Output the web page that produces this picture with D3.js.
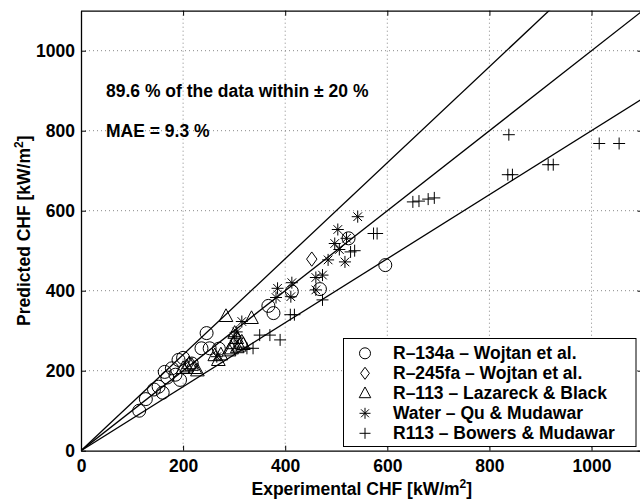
<!DOCTYPE html>
<html>
<head>
<meta charset="utf-8">
<script src="https://cdn.jsdelivr.net/npm/d3@7"></script>
<style>
  body { margin: 0; background: #fff; }
  text { font-family: "Liberation Sans", Arial, Helvetica, sans-serif; font-weight: bold; }
</style>
</head>
<body>
<script>

// data: [experimental, predicted] in kW/m2
var r134a = [[114,100],[127,129],[143,153],[160,145],[152,160],[169,183],[164,197],[178,206],
             [191,227],[194,177],[185,190],[200,232],[217,218],[236,256],[246,294],[252,256],
             [270,255],[377,344],[367,362],[413,398],[468,404],[524,531],[596,464]];
var r245fa = [[452,479]];
var r113_lazareck = [[284,336],[334,331],[301,294],[305,281],[298,268],[315,272],[318,266],
                     [295,255],[306,258],[290,250],[269,226],[262,238],[274,240],[217,214],
                     [223,206],[207,210],[212,218],[228,200],[200,206],[310,262]];
var water = [[542,585],[503,553],[520,531],[497,518],[506,503],[484,477],[517,472],[473,439],
             [460,433],[460,402],[413,420],[411,385],[385,406],[382,383],[315,323],[266,235],
             [305,297],[300,285]];
var r113_bowers = [[838,790],[836,690],[845,690],[915,715],[925,715],[1015,768],[1054,768],
                   [650,622],[662,624],[680,629],[692,632],[573,543],[580,543],[528,497],
                   [536,500],[473,377],[410,340],[418,340],[350,289],[370,289],[390,277],
                   [325,256],[337,256]];

var xTicks = [0, 200, 400, 600, 800, 1000];
var yTicks = [0, 200, 400, 600, 800, 1000];
var ratios = [1.2, 1.0, 0.8];

var legendLabels = ["R\u2013134a \u2013 Wojtan et al.",
                    "R\u2013245fa \u2013 Wojtan et al.",
                    "R\u2013113 \u2013 Lazareck & Black",
                    "Water \u2013 Qu & Mudawar",
                    "R113 \u2013 Bowers & Mudawar"];

// set the dimensions and margins of the graph
var margin = {top: 10.7, left: 81},
    width = 561.6,
    height = 440;

var x = d3.scaleLinear().domain([0, 1100]).range([0, width]);
var y = d3.scaleLinear().domain([0, 1100]).range([height, 0]);

var svg = d3.select("body").append("svg")
    .attr("width", 640)
    .attr("height", 502);

svg.append("rect").attr("width", 640).attr("height", 502).attr("fill", "#fff");

var g = svg.append("g")
    .attr("transform", "translate(" + margin.left + "," + margin.top + ")");

g.append("clipPath").attr("id", "clip")
  .append("rect").attr("width", width).attr("height", height);

// dotted grid
g.selectAll(".gx").data(xTicks.slice(1)).enter().append("line")
    .attr("x1", d => x(d)).attr("x2", d => x(d))
    .attr("y1", 0).attr("y2", height)
    .attr("stroke", "#888").attr("stroke-dasharray", "1,3");
g.selectAll(".gy").data(yTicks.slice(1)).enter().append("line")
    .attr("y1", d => y(d)).attr("y2", d => y(d))
    .attr("x1", 0).attr("x2", width)
    .attr("stroke", "#888").attr("stroke-dasharray", "1,3");

// +/-20 % lines and the diagonal
g.append("g").attr("clip-path", "url(#clip)")
  .selectAll("line").data(ratios).enter().append("line")
    .attr("x1", x(0)).attr("y1", y(0))
    .attr("x2", x(1100)).attr("y2", d => y(1100 * d))
    .attr("stroke", "#000").attr("stroke-width", 1.3);

// marker shapes
function markerPath(type, s) {
  switch (type) {
    case "circle":
      return "M" + (-s) + ",0A" + s + "," + s + " 0 1,0 " + s + ",0A" + s + "," + s + " 0 1,0 " + (-s) + ",0Z";
    case "diamond":
      return "M0," + (-s * 1.1) + "L" + (s * 0.8) + ",0L0," + (s * 1.1) + "L" + (-s * 0.8) + ",0Z";
    case "triangle":
      return "M0," + (-s * 1.15) + "L" + (s * 1.05) + "," + (s * 0.8) + "L" + (-s * 1.05) + "," + (s * 0.8) + "Z";
    case "plus":
      return "M" + (-s) + ",0H" + s + "M0," + (-s) + "V" + s;
    case "star":
      var a = s * 0.72;
      return "M" + (-s) + ",0H" + s + "M0," + (-s) + "V" + s +
             "M" + (-a) + "," + (-a) + "L" + a + "," + a + "M" + (-a) + "," + a + "L" + a + "," + (-a);
  }
}

var series = [
  {data: r134a, type: "circle", size: 6.5},
  {data: r245fa, type: "diamond", size: 6.5},
  {data: r113_lazareck, type: "triangle", size: 6.5},
  {data: water, type: "star", size: 6},
  {data: r113_bowers, type: "plus", size: 6}
];

series.forEach(function(s) {
  g.append("g").selectAll("path")
      .data(s.data)
    .enter().append("path")
      .attr("transform", d => "translate(" + x(d[0]) + "," + y(d[1]) + ")")
      .attr("d", markerPath(s.type, s.size))
      .attr("fill", "none")
      .attr("stroke", "#000")
      .attr("stroke-width", 1);
});

// axes, ticks inward
var fs = "17.5px";
var fmt = d3.format("d");
g.append("g")
    .attr("transform", "translate(0," + height + ")")
    .call(d3.axisBottom(x).tickValues(xTicks).tickFormat(fmt).tickSize(-5).tickPadding(9).tickSizeOuter(0));
g.append("g")
    .call(d3.axisLeft(y).tickValues(yTicks).tickFormat(fmt).tickSize(-5).tickPadding(6).tickSizeOuter(0));
g.append("g")
    .call(d3.axisTop(x).tickValues(xTicks).tickSize(-5).tickFormat("").tickSizeOuter(0));
g.append("g")
    .attr("transform", "translate(" + width + ",0)")
    .call(d3.axisRight(y).tickValues(yTicks).tickSize(-5).tickFormat("").tickSizeOuter(0));

svg.selectAll(".domain").attr("stroke", "#000").attr("stroke-width", 1.3);
svg.selectAll(".tick line").attr("stroke", "#000");
svg.selectAll(".tick text")
    .attr("fill", "#000")
    .style("font-size", fs)
    .style("font-family", "'Liberation Sans', Arial, sans-serif")
    .style("font-weight", "bold");

// axis titles
var xt = svg.append("text")
    .attr("x", margin.left + width / 2)
    .attr("y", 495)
    .attr("text-anchor", "middle")
    .style("font-size", fs)
    .text("Experimental CHF [kW/m");
xt.append("tspan").attr("dy", -7).style("font-size", "12px").text("2");
xt.append("tspan").attr("dy", 7).text("]");

var yt = svg.append("text")
    .attr("transform", "translate(30," + (margin.top + height / 2) + ") rotate(-90)")
    .attr("text-anchor", "middle")
    .style("font-size", fs)
    .text("Predicted CHF [kW/m");
yt.append("tspan").attr("dy", -7).style("font-size", "12px").text("2");
yt.append("tspan").attr("dy", 7).text("]");

// annotations
svg.append("text").attr("x", 106).attr("y", 96.7).style("font-size", fs)
    .text("89.6 % of the data within \u00b1 20 %");
svg.append("text").attr("x", 106).attr("y", 136.7).style("font-size", fs)
    .text("MAE = 9.3 %");

// legend
var legend = svg.append("g");
legend.append("rect")
    .attr("x", 343.5).attr("y", 338.5)
    .attr("width", 292.5).attr("height", 108)
    .attr("fill", "#fff").attr("stroke", "#000").attr("stroke-width", 1);

var rows = legend.selectAll(".row")
    .data(series)
  .enter().append("g")
    .attr("transform", function(d, i) { return "translate(365," + (353.3 + i * 20) + ")"; });
rows.append("path")
    .attr("d", d => markerPath(d.type, 5.5))
    .attr("fill", "none").attr("stroke", "#000").attr("stroke-width", 1);
rows.append("text")
    .attr("x", 28).attr("y", 6)
    .style("font-size", fs)
    .text(function(d, i) { return legendLabels[i]; });

</script>
</body>
</html>
